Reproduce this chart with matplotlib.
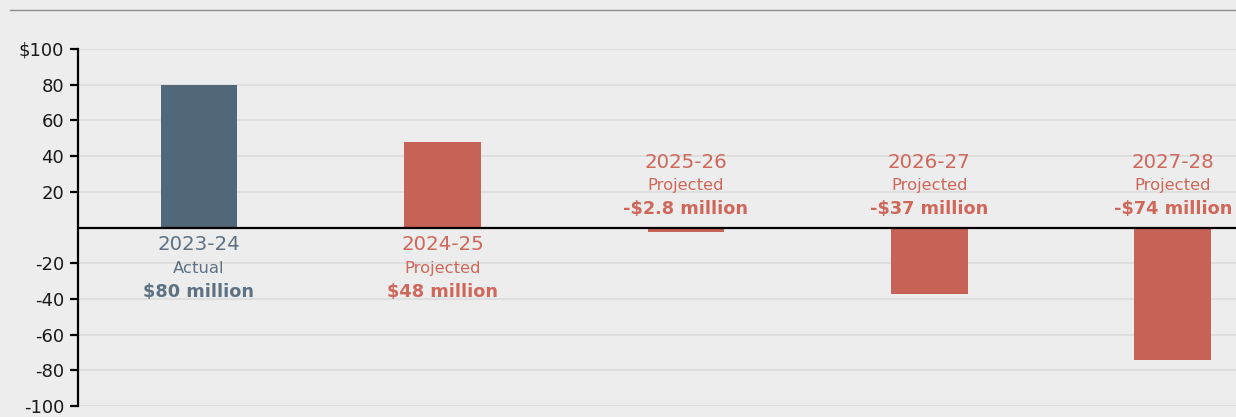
import matplotlib
matplotlib.use("Agg")
import matplotlib.pyplot as plt
from matplotlib.lines import Line2D

years = ["2023-24", "2024-25", "2025-26", "2026-27", "2027-28"]
kinds = ["Actual", "Projected", "Projected", "Projected", "Projected"]
values = [80, 48, -2.8, -37, -74]
value_labels = ["$80 million", "$48 million", "-$2.8 million", "-$37 million", "-$74 million"]
yticks = [-100, -80, -60, -40, -20, 20, 40, 60, 80, 100]
ytick_labels = ["-100", "-80", "-60", "-40", "-20", "20", "40", "60", "80", "$100"]

BG = "#ECEDEC"
SLATE = "#51687A"
RED = "#C66356"
SLATE_TXT = "#5E7284"
RED_TXT = "#D0675B"

plt.rcParams['font.family'] = ['DejaVu Sans']

fig = plt.figure(figsize=(12.36, 4.17), dpi=100, facecolor=BG)
ax = fig.add_axes([78/1236, 11/417, 1 - 78/1236, 357/417])
ax.set_facecolor(BG)

colors = [SLATE] + [RED] * (len(values) - 1)
txtcolors = [SLATE_TXT] + [RED_TXT] * (len(values) - 1)
x = list(range(len(values)))
ax.bar(x, values, width=0.315, color=colors, zorder=2)

ax.set_xlim(-0.497, 4.26)
ax.set_ylim(-100, 100)
ax.set_yticks(yticks)
ax.set_yticklabels(ytick_labels)
ax.set_xticks([])
ax.grid(axis='y', color="#DADCDB", linewidth=1.2, zorder=0)
ax.axhline(0, color="black", linewidth=1.6, zorder=3)

for s in ["top", "right", "bottom"]:
    ax.spines[s].set_visible(False)
ax.spines["left"].set_linewidth(1.6)
ax.spines["left"].set_color("black")
ax.tick_params(axis='y', length=6, width=1.6, color="black", labelsize=13, pad=4, labelcolor="#1a1a1a")

for i, v in enumerate(values):
    c = txtcolors[i]
    if v > 0:
        ys = [-9.5, -23, -36]
    else:
        ys = [36.5, 23.5, 10.5]
    ax.text(i, ys[0], years[i], ha='center', va='center', fontsize=14.2, color=c)
    ax.text(i, ys[1], kinds[i], ha='center', va='center', fontsize=11.8, color=c)
    ax.text(i, ys[2], value_labels[i], ha='center', va='center', fontsize=12.8, color=c, fontweight='bold')

fig.add_artist(Line2D([10/1236, 1], [1 - 9.5/417, 1 - 9.5/417], color="#8A8C8B", linewidth=1.0, transform=fig.transFigure))

fig.savefig("out.png", dpi=100, facecolor=BG)
